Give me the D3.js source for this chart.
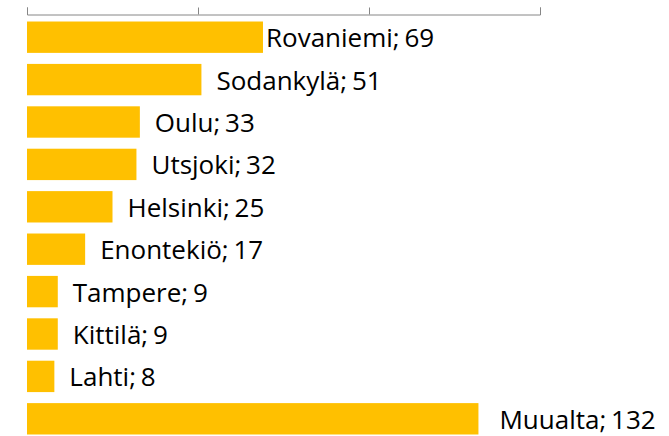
<!DOCTYPE html>
<html>
<head>
<meta charset="utf-8">
<script src="https://cdn.jsdelivr.net/npm/d3@7"></script>
<style>
  html, body { margin: 0; padding: 0; background: #fff; }
  svg { display: block; }
  .lbl { font-family: "Open Sans", "Noto Sans", sans-serif; font-size: 26px; word-spacing: -2px; fill: #000; }
</style>
</head>
<body>
<svg id="chart"></svg>
<script>
  // Data — municipality counts
  const places = ['Rovaniemi', 'Sodankylä', 'Oulu', 'Utsjoki', 'Helsinki', 'Enontekiö', 'Tampere', 'Kittilä', 'Lahti', 'Muualta'];
  const counts = [69, 51, 33, 32, 25, 17, 9, 9, 8, 132];
  const axisTicks = [0, 50, 100, 150];

  const W = 669, H = 436;
  const BAR_COLOR = '#ffc000';
  const AXIS_COLOR = '#868686';

  const svg = d3.select('#chart').attr('width', W).attr('height', H);

  const x = d3.scaleLinear().domain([0, 150]).range([27, 540]);
  const y = d3.scaleBand().domain(places).range([16, 440]).paddingInner(0.26).paddingOuter(0.13);

  // top axis with upward ticks, no labels
  const axis = d3.axisTop(x).tickValues(axisTicks).tickSize(7).tickSizeOuter(7).tickFormat('');
  const ag = svg.append('g').attr('transform', 'translate(0,14.5)').call(axis);
  ag.selectAll('path, line').attr('stroke', AXIS_COLOR).attr('stroke-width', 1);

  // bars
  svg.selectAll('rect.bar')
    .data(places)
    .enter()
    .append('rect')
    .attr('class', 'bar')
    .attr('x', x(0))
    .attr('y', d => y(d))
    .attr('width', (d, i) => x(counts[i]) - x(0))
    .attr('height', y.bandwidth())
    .attr('fill', BAR_COLOR);

  // data labels — Excel-style, manual placement (first one hugs its bar, last sits further out)
  const labelGap = i => (i === 0 ? 3 : i === places.length - 1 ? 21 : 15);
  svg.selectAll('text.lbl')
    .data(places)
    .enter()
    .append('text')
    .attr('class', 'lbl')
    .attr('x', (d, i) => x(counts[i]) + labelGap(i))
    .attr('y', d => y(d) + y.bandwidth() / 2 + 10)
    .text((d, i) => d + '; ' + counts[i]);
</script>
</body>
</html>
